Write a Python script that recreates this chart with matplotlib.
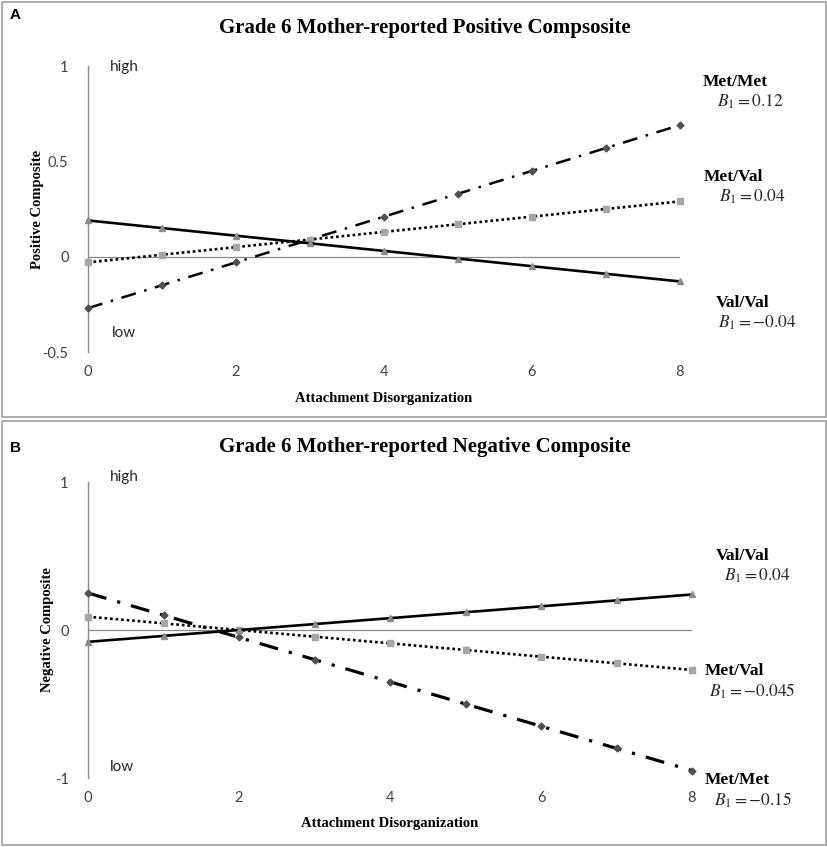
import matplotlib
matplotlib.use("Agg")
import matplotlib.pyplot as plt
from matplotlib.patches import Rectangle

plt.rcParams["mathtext.fontset"] = "stix"

W, H = 828, 847

# Attachment disorganization levels
x_levels = [0, 1, 2, 3, 4, 5, 6, 7, 8]

# Panel A: positive composite
pos_met_met = [-0.27, -0.15, -0.03, 0.09, 0.21, 0.33, 0.45, 0.57, 0.69]
pos_met_val = [-0.03, 0.01, 0.05, 0.09, 0.13, 0.17, 0.21, 0.25, 0.29]
pos_val_val = [0.19, 0.15, 0.11, 0.07, 0.03, -0.01, -0.05, -0.09, -0.13]

# Panel B: negative composite
neg_val_val = [-0.08, -0.04, 0.00, 0.04, 0.08, 0.12, 0.16, 0.20, 0.24]
neg_met_val = [0.09, 0.045, 0.00, -0.045, -0.09, -0.135, -0.18, -0.225, -0.27]
neg_met_met = [0.25, 0.10, -0.05, -0.20, -0.35, -0.50, -0.65, -0.80, -0.95]

pos_yticks = [-0.5, 0, 0.5, 1]
pos_yticklabels = ["-0.5", "0", "0.5", "1"]
neg_yticks = [-1, 0, 1]
neg_yticklabels = ["-1", "0", "1"]
xticks = [0, 2, 4, 6, 8]

SERIF = "Liberation Serif"
SANS = "Lato"


def fx(px):
    return px / W


def fy(py):
    return 1 - py / H


def style_axes(ax, ylim, yticks, yticklabels, ylabel, ylab_x, xlab_y):
    ax.set_xlim(0, 8)
    ax.set_ylim(*ylim)
    for side in ("top", "right", "bottom"):
        ax.spines[side].set_visible(False)
    ax.spines["left"].set_color("#8c8c8c")
    ax.spines["left"].set_linewidth(1.0)
    ax.axhline(0, color="#8c8c8c", lw=0.9, zorder=1)
    ax.set_xticks(xticks)
    ax.set_xticklabels([str(t) for t in xticks])
    ax.set_yticks(yticks)
    ax.set_yticklabels(yticklabels)
    ax.tick_params(axis="both", length=0, labelsize=10.5, labelcolor="#404040")
    ax.tick_params(axis="y", pad=14)
    ax.tick_params(axis="x", pad=9)
    for lab in ax.get_xticklabels() + ax.get_yticklabels():
        lab.set_fontfamily(SANS)
    ax.set_xlabel("Attachment Disorganization", fontfamily=SERIF,
                  fontweight="bold", fontsize=10.5)
    ax.set_ylabel(ylabel, fontfamily=SERIF, fontweight="bold", fontsize=10.5)
    ax.yaxis.set_label_coords(ylab_x, 0.5)
    ax.xaxis.set_label_coords(0.5, xlab_y)
    ax.patch.set_alpha(0)


def draw_series(ax, ys, kind, lw=1.8):
    if kind == "met_met":
        ax.plot(x_levels, ys, color="black", lw=lw,
                linestyle=(0, (6, 3.5, 1, 3.5)), marker="D", ms=3.5,
                mfc="#505050", mec="#505050", clip_on=False, zorder=3)
    elif kind == "met_val":
        ax.plot(x_levels, ys, color="black", lw=1.9,
                linestyle=(0, (1, 1.1)), marker="s", ms=4.5,
                mfc="#a6a6a6", mec="#a6a6a6", clip_on=False, zorder=3)
    else:
        ax.plot(x_levels, ys, color="black", lw=1.9, linestyle="-",
                marker="^", ms=4.5, mfc="#8c8c8c", mec="#8c8c8c",
                clip_on=False, zorder=3)


fig = plt.figure(figsize=(W / 100, H / 100), dpi=100)

# panel frames
for (x0, y0, x1, y1) in [(2, 2, 826, 417), (2, 421, 826, 845)]:
    fig.patches.append(Rectangle((fx(x0), fy(y1)), fx(x1) - fx(x0), fy(y0) - fy(y1),
                                 transform=fig.transFigure, fill=False,
                                 edgecolor="#a0a0a0", lw=1.2))

# Panel A
axA = fig.add_axes([fx(88), fy(352), fx(680) - fx(88), (352 - 66) / H])
style_axes(axA, (-0.5, 1), pos_yticks, pos_yticklabels, "Positive Composite",
           -0.074, -0.14)
draw_series(axA, pos_met_met, "met_met", lw=1.8)
draw_series(axA, pos_met_val, "met_val")
draw_series(axA, pos_val_val, "val_val")

# Panel B
axB = fig.add_axes([fx(88), fy(778), fx(692) - fx(88), (778 - 482) / H])
style_axes(axB, (-1, 1), neg_yticks, neg_yticklabels, "Negative Composite",
           -0.056, -0.132)
draw_series(axB, neg_met_met, "met_met", lw=2.3)
draw_series(axB, neg_met_val, "met_val")
draw_series(axB, neg_val_val, "val_val")

# titles and panel letters
fig.text(fx(425), fy(28), "Grade 6 Mother-reported Positive Compsosite",
         ha="center", va="center", fontfamily=SERIF, fontweight="bold", fontsize=15)
fig.text(fx(425), fy(447), "Grade 6 Mother-reported Negative Composite",
         ha="center", va="center", fontfamily=SERIF, fontweight="bold", fontsize=15)
fig.text(fx(10), fy(15), "A", ha="left", va="center", fontfamily="Liberation Sans",
         fontweight="bold", fontsize=11)
fig.text(fx(10), fy(448), "B", ha="left", va="center", fontfamily="Liberation Sans",
         fontweight="bold", fontsize=11)

# high / low markers
for (px, py, s) in [(110, 67, "high"), (112, 333, "low"), (110, 477, "high"), (110, 767, "low")]:
    fig.text(fx(px), fy(py), s, ha="left", va="center", fontfamily=SANS,
             fontsize=11, color="#262626")

# slope annotations
labels = [
    (703, 82, "Met/Met", 717, 102, r"$B_1 = 0.12$"),
    (704, 177, "Met/Val", 719, 197, r"$B_1 = 0.04$"),
    (716, 303, "Val/Val", 718, 323, r"$B_1 = -0.04$"),
    (716, 556, "Val/Val", 724, 576, r"$B_1 = 0.04$"),
    (705, 671, "Met/Val", 709, 691, r"$B_1 = -0.045$"),
    (705, 780, "Met/Met", 714, 800, r"$B_1 = -0.15$"),
]
for (nx, ny, name, bx, by, expr) in labels:
    fig.text(fx(nx), fy(ny), name, ha="left", va="center", fontfamily=SERIF,
             fontweight="bold", fontsize=12.5)
    fig.text(fx(bx), fy(by), expr, ha="left", va="center", fontsize=12.5,
             color="#262626")

fig.savefig("out.png", dpi=100)
